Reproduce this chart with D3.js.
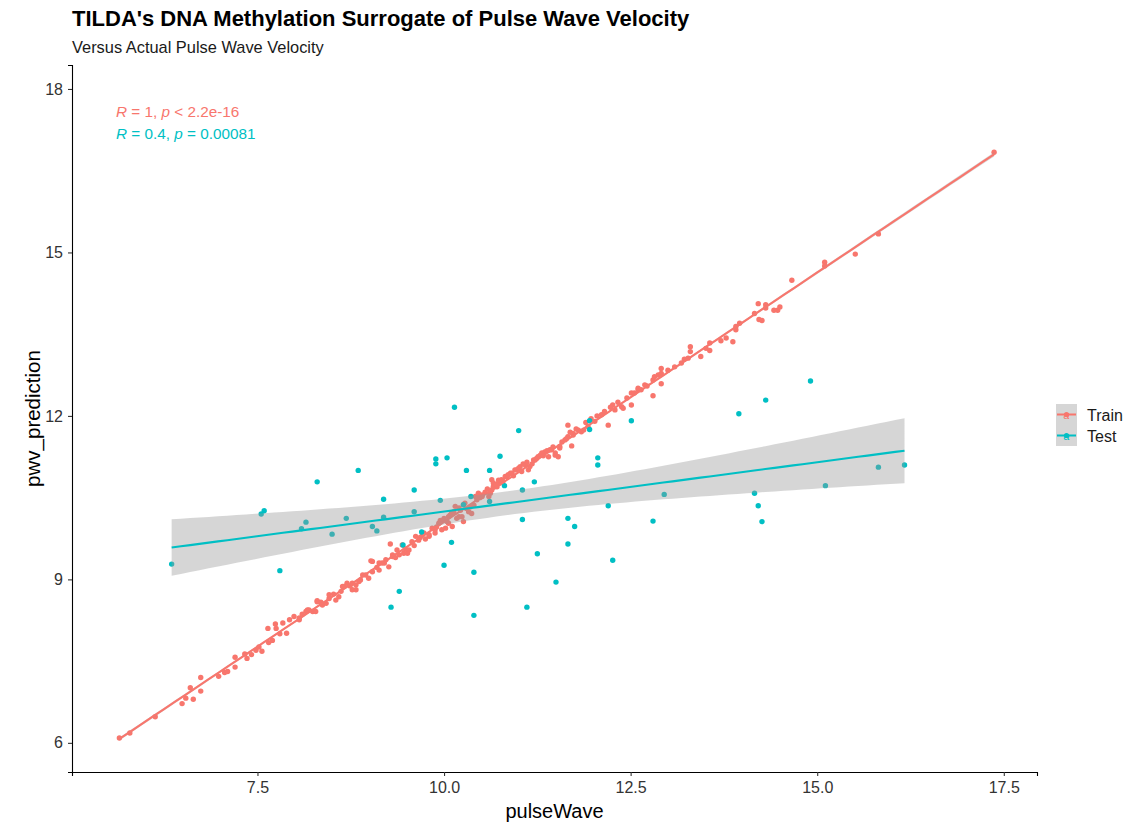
<!DOCTYPE html>
<html>
<head>
<meta charset="utf-8">
<script src="https://cdn.jsdelivr.net/npm/d3@7"></script>
<style>
  body { margin: 0; background: #fff; }
  text { font-family: "Liberation Sans", Arial, sans-serif; }
</style>
</head>
<body>
<div class="chart"></div>
<script>
// training set: actual pulse wave vs surrogate prediction
const trainX = [5.65,5.79,6.13,6.49,6.54,6.64,6.60,6.74,6.74,6.98,7.06,7.10,7.20,7.20,7.33,7.36,7.42,7.48,7.52,7.56,
  7.64,7.65,7.70,7.74,7.75,7.80,7.84,7.89,7.93,7.99,8.06,8.06,8.15,8.17,8.19,8.24,8.28,8.30,8.30,8.37,
  8.42,8.46,8.46,8.55,8.59,8.64,8.66,8.70,8.77,8.77,8.82,8.82,8.88,8.91,8.95,8.99,9.02,9.04,9.04,9.13,
  9.13,9.17,9.22,9.26,9.28,9.31,9.31,9.37,9.40,9.44,9.46,9.51,9.53,9.57,9.62,9.66,9.71,9.73,9.80,9.80,
  9.84,9.88,9.88,9.93,9.97,10.00,10.00,10.02,10.06,10.06,10.08,10.11,10.13,10.15,10.20,10.20,10.24,10.26,10.26,10.28,
  10.33,10.37,10.44,10.46,10.51,10.51,10.60,10.64,10.64,10.66,10.66,10.68,10.71,10.75,10.77,10.82,10.84,10.89,10.91,10.95,
  10.97,11.02,11.04,11.09,11.13,11.15,11.20,11.22,11.26,11.29,11.31,11.35,11.40,11.42,11.44,11.49,11.49,11.53,11.55,11.55,
  11.62,11.66,11.66,11.71,11.73,11.73,11.80,11.84,11.87,11.93,12.02,12.11,12.20,12.26,12.29,12.38,12.40,12.51,12.51,12.60,
  12.60,12.64,12.69,12.80,12.80,12.82,12.87,12.91,12.91,12.91,13.00,13.09,13.18,13.22,13.27,13.30,13.30,13.44,13.51,13.56,
  13.56,13.71,13.78,13.87,13.91,13.91,13.96,14.16,14.21,14.22,14.26,14.31,14.31,14.42,14.47,14.50,14.66,15.10,15.10,15.51,
  15.82,17.37,
  9.60,9.68,9.75,9.90,9.95,10.04,10.10,10.17,10.22,10.30,10.35,10.40,10.42,10.48,10.55,10.58,10.62,10.70,10.73,10.79,
  10.86,10.93,11.00,11.06,11.11,11.18,11.24,11.33,11.38,11.46,11.58,11.64,11.69,11.77,11.90,11.97,12.05,12.15,12.23,12.33,
  12.45,12.55,12.72,8.10,8.35,8.52,8.62,8.74,8.86,9.10,9.20,9.35,9.48];
const trainY = [6.09,6.18,6.48,6.72,6.82,6.80,7.01,6.95,7.20,7.22,7.29,7.31,7.39,7.57,7.63,7.55,7.62,7.70,7.76,7.68,
  8.10,7.84,7.88,8.18,8.10,8.00,8.20,8.01,8.26,8.32,8.26,8.29,8.41,8.44,8.44,8.41,8.41,8.59,8.61,8.53,
  8.56,8.65,8.72,8.62,8.68,8.87,8.87,8.93,8.81,8.93,8.90,8.81,8.99,9.08,9.08,9.02,9.34,9.14,9.33,9.17,
  9.30,9.30,9.36,9.23,9.65,9.42,9.45,9.54,9.45,9.63,9.48,9.48,9.54,9.69,9.79,9.72,9.82,9.85,9.79,9.82,
  9.94,9.85,9.91,10.03,9.91,10.09,10.12,9.94,10.15,10.03,10.18,9.97,10.24,10.34,10.15,10.31,10.15,10.37,10.06,10.40,
  10.24,10.21,10.46,10.58,10.55,10.52,10.52,10.64,10.83,10.77,10.70,10.70,10.70,10.77,10.83,10.89,10.89,10.95,10.95,11.01,
  11.01,11.07,10.98,11.10,11.01,11.07,11.19,11.19,11.25,11.28,11.32,11.34,11.25,11.38,11.38,11.28,11.32,11.25,11.44,11.41,
  11.56,11.62,11.83,11.45,11.65,11.68,11.74,11.71,11.74,11.80,11.90,12.02,11.83,12.20,12.11,12.17,12.14,12.20,12.42,12.48,
  12.51,12.48,12.57,12.37,12.66,12.72,12.75,12.78,12.87,12.59,12.84,12.90,12.97,13.04,13.06,13.27,13.18,13.09,13.24,13.34,
  13.20,13.38,13.43,13.36,13.58,13.64,13.70,13.88,14.06,13.77,13.75,14.04,13.98,13.94,13.94,14.00,14.49,14.82,14.75,14.97,
  15.34,16.84,
  9.62,9.77,9.74,9.96,10.08,10.06,10.22,10.12,10.27,10.30,10.33,10.36,10.52,10.50,10.60,10.66,10.58,10.74,10.82,10.80,
  10.92,10.90,11.04,11.12,11.15,11.12,11.22,11.27,11.36,11.43,11.52,11.58,11.70,11.76,11.88,11.95,12.00,12.08,12.16,12.25,
  12.33,12.42,12.55,8.36,8.58,8.73,8.78,8.88,8.96,9.22,9.30,9.40,9.56];

// held-out test set
const testX = [6.35,7.55,7.59,7.80,8.09,8.15,8.30,8.50,8.69,8.85,9.04,9.10,9.19,9.19,9.40,9.29,9.45,9.60,9.60,9.70,
  9.89,9.89,10.04,9.95,10.00,10.10,10.14,10.30,10.61,10.75,11.00,10.36,10.61,10.81,11.05,11.21,10.26,10.40,10.40,11.05,
  11.25,11.11,11.50,11.66,11.75,11.66,11.95,11.95,12.06,12.06,12.20,12.26,12.51,12.80,12.95,13.95,14.31,14.91,14.16,14.21,
  14.26,15.11,15.82,16.17];
const testY = [9.28,10.20,10.26,9.16,9.93,10.05,10.79,9.83,10.12,11.00,9.97,9.89,10.47,10.14,8.78,8.49,9.63,10.64,10.24,9.87,
  11.21,11.12,11.23,10.45,9.26,9.68,12.16,11.00,11.00,11.26,11.73,10.52,10.43,10.72,10.64,10.79,10.37,9.13,8.34,10.10,
  9.47,8.49,8.95,10.12,9.97,9.65,11.91,11.75,11.23,11.10,10.35,9.35,11.91,10.07,10.56,12.04,12.29,12.64,10.58,10.35,
  10.06,10.72,11.06,11.10];

const groups = ["Train", "Test"];
const groupColors = ["#F8766D", "#00BFC4"];
const corLabels = [["1", "< 2.2e-16"], ["0.4", "= 0.00081"]];
const xTicks = [7.5, 10, 12.5, 15, 17.5];
const yTicks = [6, 9, 12, 15, 18];

const W = 1142, H = 823;
const margin = { left: 72, right: 105, top: 65, bottom: 51 };

const svg = d3.select("div.chart").append("svg")
  .attr("width", W).attr("height", H);

const x = d3.scaleLinear().domain([5.015, 17.945]).range([margin.left, W - margin.right]);
const y = d3.scaleLinear().domain([5.465, 18.44]).range([H - margin.bottom, margin.top]);

// lm fit with 95% confidence band, like geom_smooth(method = "lm")
function lmFit(xs, ys) {
  const n = xs.length;
  const mx = d3.mean(xs), my = d3.mean(ys);
  let sxx = 0, sxy = 0;
  xs.forEach((v, i) => { sxx += (v - mx) ** 2; sxy += (v - mx) * (ys[i] - my); });
  const b = sxy / sxx, a = my - b * mx;
  let sse = 0;
  xs.forEach((v, i) => { sse += (ys[i] - a - b * v) ** 2; });
  const s = Math.sqrt(sse / (n - 2));
  const t = n > 120 ? 1.97 : 1.999;
  const lo = d3.min(xs), hi = d3.max(xs);
  return d3.range(80).map(k => {
    const xv = lo + (hi - lo) * k / 79;
    const fit = a + b * xv;
    const se = s * Math.sqrt(1 / n + (xv - mx) ** 2 / sxx);
    return { x: xv, y: fit, lo: fit - t * se, hi: fit + t * se };
  });
}

const sets = [
  { name: groups[0], color: groupColors[0], xs: trainX, ys: trainY },
  { name: groups[1], color: groupColors[1], xs: testX, ys: testY }
];

// points
sets.forEach(set => {
  svg.append("g").selectAll("circle")
    .data(set.xs.map((v, i) => [v, set.ys[i]]))
    .enter().append("circle")
    .attr("cx", d => x(d[0]))
    .attr("cy", d => y(d[1]))
    .attr("r", 2.7)
    .style("fill", set.color);
});

// smooths
const area = d3.area().x(d => x(d.x)).y0(d => y(d.lo)).y1(d => y(d.hi));
const line = d3.line().x(d => x(d.x)).y(d => y(d.y));
sets.forEach(set => {
  const fit = lmFit(set.xs, set.ys);
  svg.append("path").attr("d", area(fit))
    .style("fill", "#999999").style("fill-opacity", 0.4);
  svg.append("path").attr("d", line(fit))
    .style("fill", "none").style("stroke", set.color).style("stroke-width", 2.1);
});

// axes
const xAxis = svg.append("g")
  .attr("transform", `translate(0,${H - margin.bottom})`)
  .call(d3.axisBottom(x).tickValues(xTicks).tickFormat(d3.format(".1f")).tickSizeOuter(0).tickSize(4).tickPadding(6));
const yAxis = svg.append("g")
  .attr("transform", `translate(${margin.left},0)`)
  .call(d3.axisLeft(y).tickValues(yTicks).tickSizeOuter(0).tickSize(4).tickPadding(5));
[xAxis, yAxis].forEach(ax => {
  ax.select(".domain").style("stroke", "#000").style("stroke-width", 1.1);
  ax.selectAll(".tick line").style("stroke", "#333").style("stroke-width", 1.1);
  ax.selectAll(".tick text").style("font-size", "16px").style("fill", "#333")
    .style("font-family", "'Liberation Sans', Arial, sans-serif");
});

svg.append("text").attr("x", (margin.left + W - margin.right) / 2).attr("y", 818)
  .attr("text-anchor", "middle").style("font-size", "20px").text("pulseWave");
svg.append("text")
  .attr("transform", `translate(40,${(margin.top + H - margin.bottom) / 2}) rotate(-90)`)
  .attr("text-anchor", "middle").style("font-size", "20.5px").text("pwv_prediction");

// titles
svg.append("text").attr("x", margin.left).attr("y", 26)
  .style("font-size", "22px").style("font-weight", "bold")
  .text("TILDA's DNA Methylation Surrogate of Pulse Wave Velocity");
svg.append("text").attr("x", margin.left).attr("y", 53)
  .style("font-size", "16.4px").style("fill", "#1a1a1a")
  .text("Versus Actual Pulse Wave Velocity");

// stat_cor labels
corLabels.forEach((lab, i) => {
  const t = svg.append("text").attr("x", 116).attr("y", 117 + i * 22)
    .style("font-size", "15.3px").style("fill", groupColors[i]);
  t.append("tspan").style("font-style", "italic").text("R");
  t.append("tspan").text(` = ${lab[0]}, `);
  t.append("tspan").style("font-style", "italic").text("p");
  t.append("tspan").text(` ${lab[1]}`);
});

// legend
const legend = svg.append("g").attr("transform", "translate(1056,404)");
groups.forEach((g, i) => {
  const row = legend.append("g").attr("transform", `translate(0,${i * 21})`);
  row.append("rect").attr("width", 21).attr("height", 21).style("fill", "#d6d6d6");
  row.append("line").attr("x1", 1).attr("x2", 20).attr("y1", 10.5).attr("y2", 10.5)
    .style("stroke", groupColors[i]).style("stroke-width", 2);
  row.append("circle").attr("cx", 10.5).attr("cy", 10.5).attr("r", 2.6).style("fill", groupColors[i]);
  row.append("text").attr("x", 10.5).attr("y", 15).attr("text-anchor", "middle")
    .style("font-size", "11px").style("font-style", "italic").style("fill", groupColors[i]).text("a");
  row.append("text").attr("x", 31).attr("y", 16.5).style("font-size", "16px").style("fill", "#1a1a1a").text(g);
});
</script>
</body>
</html>
